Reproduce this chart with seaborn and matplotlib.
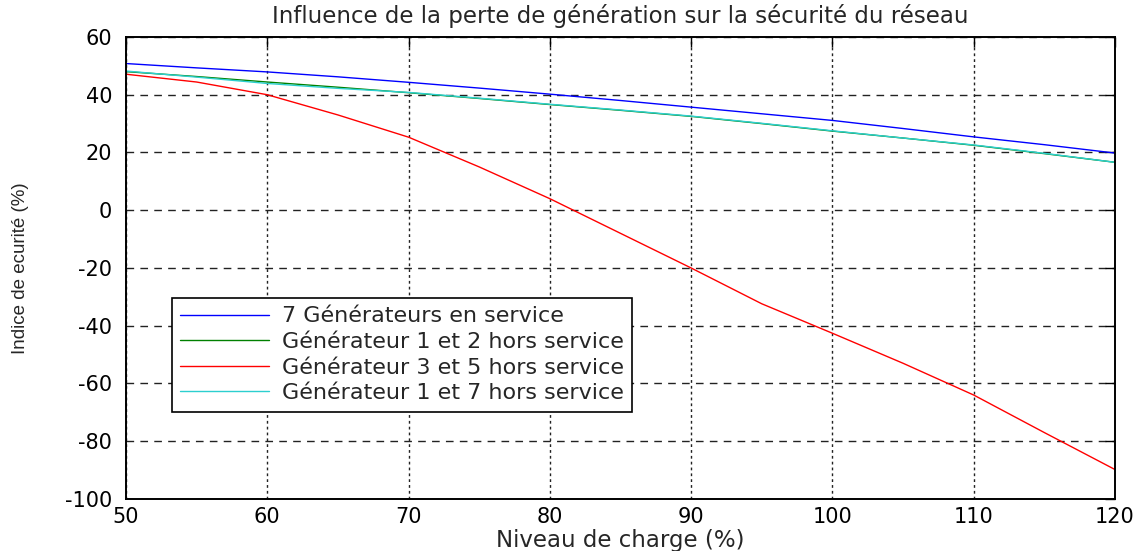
import matplotlib
matplotlib.use("Agg")
import matplotlib.pyplot as plt
import pandas as pd
import seaborn as sns

# Load level (%) and security index (%) for each generation scenario
charge = [50, 55, 60, 65, 70, 75, 80, 85, 90, 95, 100, 105, 110, 115, 120]
gen_tous = [50.8, 49.3, 47.9, 46.2, 44.3, 42.3, 40.2, 38.0, 35.7, 33.4, 31.1, 28.3, 25.4, 22.7, 19.8]
gen_1_2 = [48.0, 46.3, 44.4, 42.6, 40.7, 38.7, 36.6, 34.6, 32.5, 30.0, 27.4, 25.0, 22.5, 19.6, 16.6]
gen_3_5 = [47.1, 44.4, 40.0, 33.0, 25.3, 15.0, 4.0, -8.0, -20.0, -32.4, -42.6, -53.0, -64.0, -77.0, -89.8]
gen_1_7 = [48.2, 46.1, 43.9, 42.2, 40.8, 38.8, 36.7, 34.7, 32.6, 30.1, 27.5, 25.0, 22.6, 19.7, 16.6]

labels = [
    "7 Générateurs en service",
    "Générateur 1 et 2 hors service",
    "Générateur 3 et 5 hors service",
    "Générateur 1 et 7 hors service",
]
series = [gen_tous, gen_1_2, gen_3_5, gen_1_7]
colors = ["#0000ff", "#008000", "#ff0000", "#2ccfcf"]

x_ticks = [50, 60, 70, 80, 90, 100, 110, 120]
y_ticks = [-100, -80, -60, -40, -20, 0, 20, 40, 60]

df = pd.concat(
    [pd.DataFrame({"charge": charge, "indice": vals, "serie": lab})
     for lab, vals in zip(labels, series)],
    ignore_index=True,
)

sns.set_style("white")
plt.rcParams["font.family"] = ["DejaVu Sans"]
plt.rcParams["axes.unicode_minus"] = False

fig = plt.figure(figsize=(11.43, 5.51), dpi=100)
ax = fig.add_axes([0.1102, 0.0944, 0.8653, 0.8385])

sns.lineplot(
    data=df, x="charge", y="indice", hue="serie", hue_order=labels,
    palette=dict(zip(labels, colors)), linewidth=1.0, estimator=None,
    sort=False, legend=False, ax=ax,
)

ax.set_xlim(50, 120)
ax.set_ylim(-100, 60)
ax.set_xticks(x_ticks)
ax.set_yticks(y_ticks)

# dotted verticals, dashed horizontals
ax.xaxis.grid(True, color="#222222", linestyle=(0, (2.0, 2.2)), linewidth=1.0)
ax.yaxis.grid(True, color="#222222", linestyle=(0, (5.5, 4.5)), linewidth=1.0)

for sp in ax.spines.values():
    sp.set_visible(True)
    sp.set_color("black")
    sp.set_linewidth(1.4)

ax.tick_params(direction="in", length=7, width=1.0, top=True, right=True,
               labelsize=15, colors="black")
ax.tick_params(axis="x", pad=6)
ax.tick_params(axis="y", pad=10)

ax.set_title("Influence de la perte de génération sur la sécurité du réseau",
             fontsize=16.5, pad=10)
ax.set_xlabel("Niveau de charge (%)", fontsize=16.5, va="top")
ax.xaxis.set_label_coords(0.5, -0.064)
ax.set_ylabel("Indice de ecurité (%)", fontsize=13.5,
              family=["Liberation Sans Narrow", "Liberation Sans", "DejaVu Sans"])
ax.yaxis.set_label_coords(-0.098, 0.5)

leg = ax.legend(
    ax.lines[:4], labels, loc="upper left", bbox_to_anchor=(0.0465, 0.435),
    borderaxespad=0, fontsize=16, handlelength=4.0, handletextpad=0.55,
    labelspacing=0.25, borderpad=0.38, fancybox=False, framealpha=1,
    edgecolor="black",
)
leg.get_frame().set_linewidth(1.2)

fig.savefig("out.png", dpi=100)
